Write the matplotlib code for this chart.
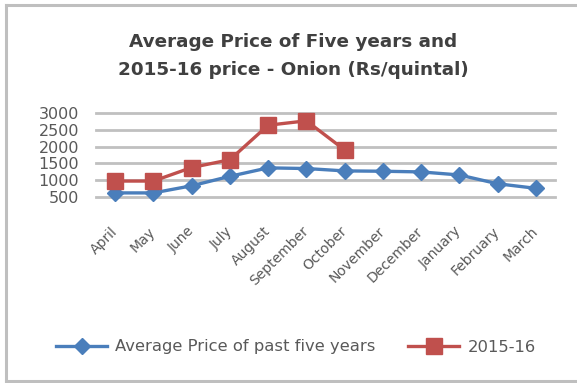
import matplotlib
matplotlib.use('Agg')
import matplotlib.pyplot as plt
import numpy as np
from matplotlib.lines import Line2D

months = ['April', 'May', 'June', 'July', 'August', 'September', 'October',
          'November', 'December', 'January', 'February', 'March']
avg_five_years = [630, 630, 840, 1120, 1370, 1350, 1280, 1270, 1250, 1160, 900, 765]
price_2015_16 = [980, 980, 1380, 1610, 2630, 2760, 1900]
yticks = [500, 1000, 1500, 2000, 2500, 3000]

blue = '#4a7ebb'
red = '#c0504d'
txt = '#595959'

W, H = 577, 383
fig = plt.figure(figsize=(W/100, H/100), dpi=100)

# outer chart frame: left, top and bottom edges only
frame = dict(transform=fig.transFigure, color='#bfbfbf', lw=2.2)
fig.add_artist(Line2D([5.5/W, 5.5/W], [1-5/H, 1-381/H], **frame))
fig.add_artist(Line2D([5.5/W, 1.0], [1-5/H, 1-5/H], **frame))
fig.add_artist(Line2D([5.5/W, 1.0], [1-381/H, 1-381/H], **frame))

ax = fig.add_axes([96/W, 1-197.3/H, (555-96)/W, (197.3-112.7)/H])
x = np.arange(len(months))

ax.plot(x, avg_five_years, color=blue, lw=2.4, marker='D', ms=8,
        label='Average Price of past five years', zorder=3, clip_on=False)
ax.plot(x[:len(price_2015_16)], price_2015_16, color=red, lw=2.4, marker='s', ms=12,
        label='2015-16', zorder=4, clip_on=False)

ax.set_xlim(-0.5, len(months)-0.5)
ax.set_ylim(500, 3000)
ax.set_yticks(yticks)
ax.set_yticklabels([str(v) for v in yticks])
ax.set_xticks(x)
ax.set_xticklabels(months, rotation=45, ha='right', va='center', rotation_mode='anchor')
ax.tick_params(axis='y', length=0, pad=12, labelsize=11.5, labelcolor=txt)
ax.tick_params(axis='x', length=0, pad=23, labelsize=10, labelcolor=txt)
for s in ax.spines.values():
    s.set_visible(False)
ax.grid(axis='y', color='#c0c0c0', lw=2)
for gl in ax.get_ygridlines():
    gl.set_clip_on(False)
ax.set_axisbelow(True)

fig.text(293/W, 1-42/H, 'Average Price of Five years and', ha='center', va='center',
         fontsize=13.2, fontweight='bold', color='#404040')
fig.text(293/W, 1-70/H, '2015-16 price - Onion (Rs/quintal)', ha='center', va='center',
         fontsize=13.2, fontweight='bold', color='#404040')

fig.legend(loc='center', bbox_to_anchor=(296/W, 1-347/H), ncol=2, frameon=False,
           fontsize=11.8, labelcolor=txt, handlelength=3.1, handletextpad=0.5,
           columnspacing=2.0)

fig.savefig('out.png', dpi=100)
